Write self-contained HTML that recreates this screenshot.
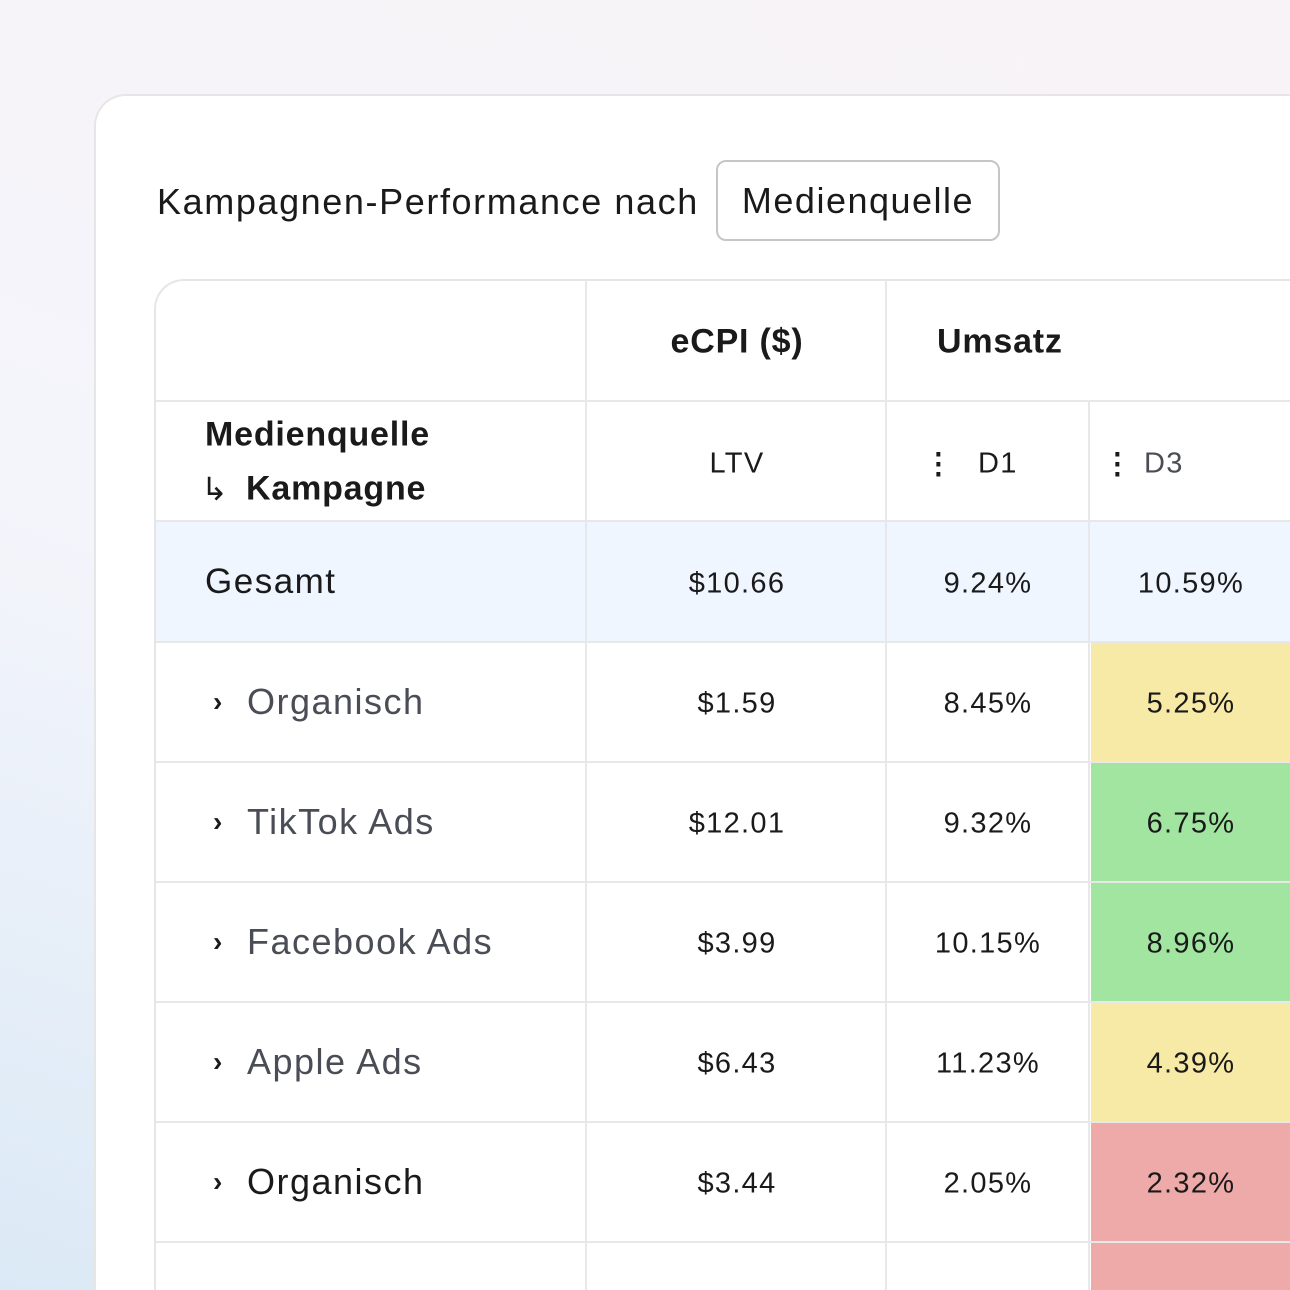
<!DOCTYPE html>
<html><head><meta charset="utf-8"><style>
*{margin:0;padding:0;box-sizing:border-box}
html,body{width:1290px;height:1290px;overflow:hidden}
body{position:relative;font-family:"Liberation Sans",sans-serif;color:#1a1a1a}
.wrap{position:absolute;left:0;top:0;width:1290px;height:1290px;overflow:hidden;
background:linear-gradient(20deg,#dbe9f6 0%,#f4f5fb 45%,#f8f3f6 100%)}
.card{position:absolute;left:94px;top:94px;width:1196px;height:1196px;background:#fff;border:2px solid #e6e6e6;border-right:none;border-bottom:none;border-radius:32px 0 0 0}
.title{position:absolute;left:157px;top:181px;font-size:36px;letter-spacing:1.6px;color:#1a1a1a;white-space:nowrap}
.btn{position:absolute;left:716px;top:160px;width:284px;height:81px;border:2px solid #c6c6c6;border-radius:10px;font-size:36px;letter-spacing:1.5px;line-height:77px;text-align:center}
.tbl{position:absolute;left:154px;top:279px;width:1136px;height:1011px;border:2px solid #e6e6e6;border-right:none;border-bottom:none;border-radius:30px 0 0 0;overflow:hidden;background:#fff}
.hl,.vl,.cell,.t{position:absolute}
.hl{height:2px;background:#e8e8e8;left:0;right:0}
.vl{width:2px;background:#e8e8e8}
.t{white-space:nowrap;transform:translate(-50%,-50%)}
.num{font-size:29px;letter-spacing:1.3px;color:#1a1a1a}
.name{font-size:36px;letter-spacing:1.5px;color:#4a4d55;transform:translateY(-50%)}
.chev{font-size:28px;font-weight:bold;color:#1a1a1a;transform:translateY(-50%)}
.hb{font-size:34px;font-weight:bold;letter-spacing:0.8px}
</style></head><body><div class="wrap">
<div class="card"></div>
<div class="title">Kampagnen-Performance nach</div>
<div class="btn">Medienquelle</div>
<div class="tbl">
<div class="cell" style="left:0;top:241px;width:1136px;height:120px;background:#eff6ff"></div>
<div class="cell" style="left:935px;top:362px;width:201px;height:120px;background:#f7eaa6"></div>
<div class="cell" style="left:935px;top:482px;width:201px;height:120px;background:#a1e5a1"></div>
<div class="cell" style="left:935px;top:602px;width:201px;height:120px;background:#a1e5a1"></div>
<div class="cell" style="left:935px;top:722px;width:201px;height:120px;background:#f7eaa6"></div>
<div class="cell" style="left:935px;top:842px;width:201px;height:120px;background:#eeaaa8"></div>
<div class="cell" style="left:935px;top:962px;width:201px;height:47px;background:#eeaaa8"></div>
<div class="hl" style="top:119px"></div>
<div class="hl" style="top:239px"></div>
<div class="hl" style="top:360px"></div>
<div class="hl" style="top:480px"></div>
<div class="hl" style="top:600px"></div>
<div class="hl" style="top:720px"></div>
<div class="hl" style="top:840px"></div>
<div class="hl" style="top:960px"></div>
<div class="vl" style="left:429px;top:0;bottom:0"></div>
<div class="vl" style="left:729px;top:0;bottom:0"></div>
<div class="vl" style="left:932px;top:119px;bottom:0"></div>
<div class="t hb" style="left:581px;top:61px">eCPI ($)</div>
<div class="t hb" style="left:781px;top:61px;transform:translateY(-50%)">Umsatz</div>
<div class="t hb" style="left:49px;top:154px;transform:translateY(-50%)">Medienquelle</div>
<div class="t" style="left:45px;top:208px;font-size:32px;transform:translateY(-50%);font-family:'DejaVu Sans',sans-serif">↳</div>
<div class="t hb" style="left:90px;top:208px;transform:translateY(-50%)">Kampagne</div>
<div class="t num" style="left:581px;top:183px">LTV</div>
<div class="t num" style="left:783px;top:183px;font-weight:bold">⋮</div>
<div class="t num" style="left:822px;top:183px;transform:translateY(-50%)">D1</div>
<div class="t num" style="left:962px;top:183px;font-weight:bold">⋮</div>
<div class="t num" style="left:988px;top:183px;transform:translateY(-50%);color:#4a4d55">D3</div>

<div class="t name" style="left:49px;top:301px;font-size:35px;color:#1a1a1a">Gesamt</div>
<div class="t num" style="left:581px;top:303px">$10.66</div>
<div class="t num" style="left:832px;top:303px">9.24%</div>
<div class="t num" style="left:1035px;top:303px">10.59%</div>

<div class="t chev" style="left:57px;top:421px">›</div><div class="t name" style="left:91px;top:421px">Organisch</div>
<div class="t num" style="left:581px;top:423px">$1.59</div><div class="t num" style="left:832px;top:423px">8.45%</div><div class="t num" style="left:1035px;top:423px">5.25%</div>

<div class="t chev" style="left:57px;top:541px">›</div><div class="t name" style="left:91px;top:541px">TikTok Ads</div>
<div class="t num" style="left:581px;top:543px">$12.01</div><div class="t num" style="left:832px;top:543px">9.32%</div><div class="t num" style="left:1035px;top:543px">6.75%</div>

<div class="t chev" style="left:57px;top:661px">›</div><div class="t name" style="left:91px;top:661px">Facebook Ads</div>
<div class="t num" style="left:581px;top:663px">$3.99</div><div class="t num" style="left:832px;top:663px">10.15%</div><div class="t num" style="left:1035px;top:663px">8.96%</div>

<div class="t chev" style="left:57px;top:781px">›</div><div class="t name" style="left:91px;top:781px">Apple Ads</div>
<div class="t num" style="left:581px;top:783px">$6.43</div><div class="t num" style="left:832px;top:783px">11.23%</div><div class="t num" style="left:1035px;top:783px">4.39%</div>

<div class="t chev" style="left:57px;top:901px">›</div><div class="t name" style="left:91px;top:901px;color:#1a1a1a">Organisch</div>
<div class="t num" style="left:581px;top:903px">$3.44</div><div class="t num" style="left:832px;top:903px">2.05%</div><div class="t num" style="left:1035px;top:903px">2.32%</div>
</div>
</div></body></html>
